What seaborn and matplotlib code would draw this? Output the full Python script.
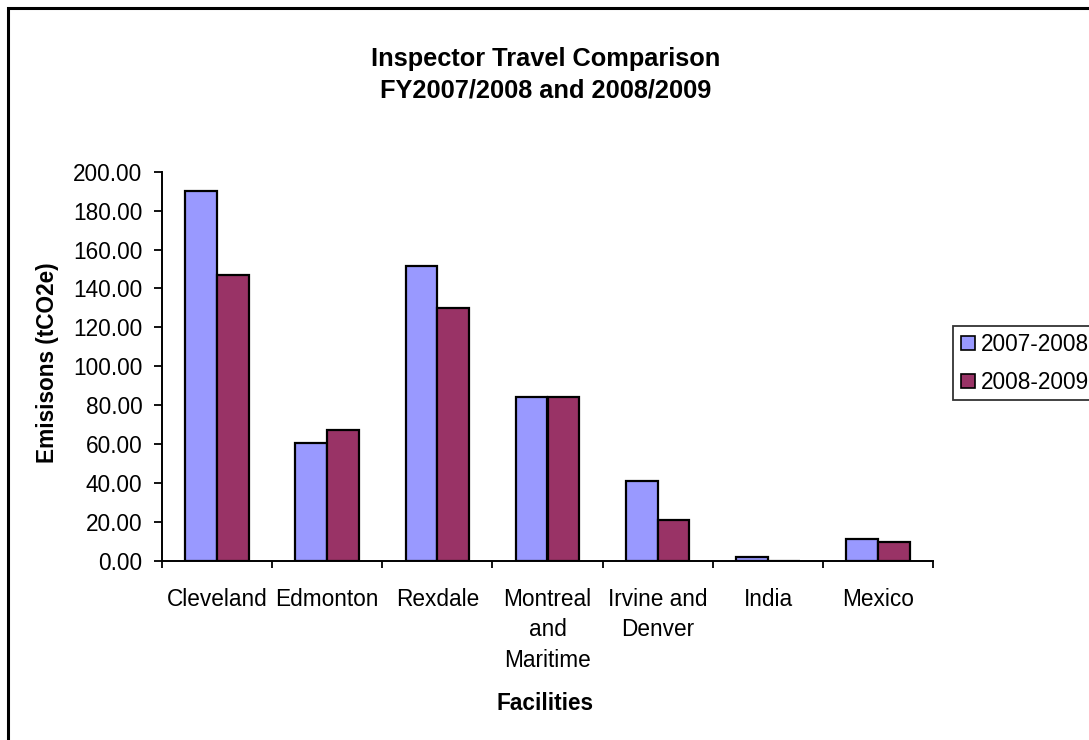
import matplotlib
matplotlib.use("Agg")
import matplotlib.pyplot as plt
from matplotlib.patches import Rectangle
import pandas as pd
import seaborn as sns

# Emissions per facility for two fiscal years (tCO2e)
facilities = ["Cleveland", "Edmonton", "Rexdale", "Montreal\nand\nMaritime",
              "Irvine and\nDenver", "India", "Mexico"]
fy_2007_2008 = [190.2, 60.4, 151.7, 84.3, 41.1, 1.7, 11.2]
fy_2008_2009 = [146.9, 67.4, 129.8, 84.3, 20.9, 0.0, 9.5]
series_names = ["2007-2008", "2008-2009"]
y_ticks = [0, 20, 40, 60, 80, 100, 120, 140, 160, 180, 200]

df = pd.DataFrame({
    "Facility": facilities * 2,
    "Emissions": fy_2007_2008 + fy_2008_2009,
    "Year": [series_names[0]] * len(facilities) + [series_names[1]] * len(facilities),
})

sns.set_theme(style="white")
plt.rcParams["font.family"] = ["Liberation Sans", "DejaVu Sans"]
plt.rcParams.update({"text.color": "black", "axes.labelcolor": "black",
                     "xtick.color": "black", "ytick.color": "black"})

FS = 16.3
W, H = 1089, 740
fig = plt.figure(figsize=(W / 100, H / 100), dpi=100)
ax = fig.add_axes([161.7 / W, 1 - 560.7 / H, (933.3 - 161.7) / W, (560.7 - 171.7) / H])

palette = {series_names[0]: "#9999FF", series_names[1]: "#993366"}
sns.barplot(data=df, x="Facility", y="Emissions", hue="Year", order=facilities,
            hue_order=series_names, palette=palette, width=0.575, gap=0,
            edgecolor="black", linewidth=1.6, saturation=1, ax=ax, legend=False)

ax.set_xlim(-0.5, len(facilities) - 0.5)
ax.set_ylim(0, 200)
ax.set_yticks(y_ticks)
ax.set_yticklabels([f"{v:.2f}" for v in y_ticks], fontsize=FS)

# category labels centred, tick marks on the group boundaries
ax.set_xticks(range(len(facilities)))
ax.set_xticklabels(facilities, fontsize=FS, linespacing=1.42, va="top")
ax.tick_params(axis="x", which="major", length=0, pad=19.5)
ax.set_xticks([i - 0.5 for i in range(len(facilities) + 1)], minor=True)
ax.tick_params(axis="x", which="minor", length=5, width=1.3, direction="out", bottom=True)
ax.tick_params(axis="y", length=5.8, width=1.3, direction="out", left=True, pad=8)

for side in ["top", "right"]:
    ax.spines[side].set_visible(False)
for side in ["left", "bottom"]:
    ax.spines[side].set_color("black")
    ax.spines[side].set_linewidth(1.4)

ax.set_xlabel("")
ax.set_ylabel("")
fig.text(48 / W, 1 - 363 / H, "Emisisons (tCO2e)", rotation=90, ha="center", va="center",
         fontsize=FS, fontweight="bold")
fig.text(545 / W, 1 - 704 / H, "Facilities", ha="center", va="center",
         fontsize=FS, fontweight="bold")
fig.text(546 / W, 1 - 75 / H, "Inspector Travel Comparison\nFY2007/2008 and 2008/2009",
         ha="center", va="center", fontsize=18.3, fontweight="bold", linespacing=1.4)

# legend with small square swatches
handles = [plt.Line2D([], [], marker="s", linestyle="none", markersize=9.5,
                      markerfacecolor=palette[n], markeredgecolor="black", markeredgewidth=1.2)
           for n in series_names]
leg = fig.legend(handles, series_names, loc="upper left",
                 bbox_to_anchor=(953 / W, 1 - 326 / H), fontsize=FS,
                 frameon=True, fancybox=False, edgecolor="black", borderpad=0.3,
                 handlelength=0.7, handletextpad=0.25, labelspacing=0.65, borderaxespad=0)
leg.get_frame().set_linewidth(1.3)

# chart border
fig.patches.append(Rectangle((7.5 / W, -0.1), 1.2, 1 - 8 / H + 0.1, transform=fig.transFigure,
                             fill=False, edgecolor="black", linewidth=2.2, clip_on=False))

fig.savefig("out.png", dpi=100, facecolor="white")
